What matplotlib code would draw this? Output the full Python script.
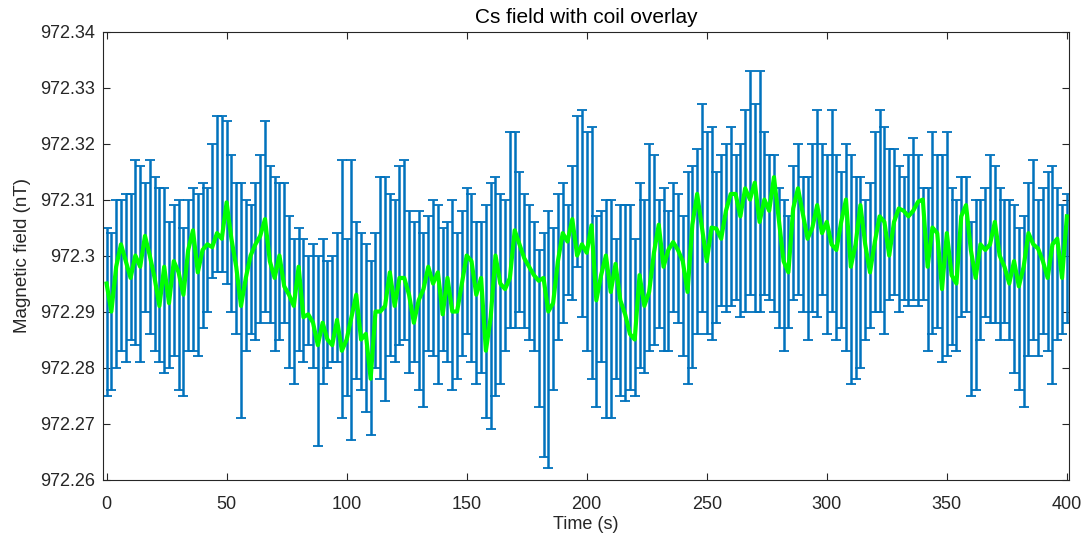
import numpy as np
import matplotlib.pyplot as plt
from matplotlib.ticker import FormatStrFormatter

# field values are stored in pT above 972 nT, every 2 s
BASE_NT = 972.0
time_s = np.arange(0, 401, 2)

# green coil overlay
field_pT = [
    295, 290, 298, 302, 299, 296, 300, 298, 303.5, 300, 296, 291, 298, 291.5, 299, 297, 293, 301, 304.5, 297, 301, 302, 301.5, 304, 303,
    309.5, 303, 298, 291, 296, 300, 302, 303.5, 306.5, 299, 296, 300, 294.5, 293, 291, 298, 289, 289.5, 288, 284, 288, 285, 284, 288.5, 283,
    285, 289, 293, 285, 286, 278, 290, 290, 291, 297, 291, 296, 296, 293, 288, 292, 294, 298, 295, 297, 289.5, 296, 290, 290, 295,
    300, 299, 293, 296, 283, 289, 300, 295, 294, 296, 304.5, 302, 299.5, 298, 296.5, 295.5, 296, 290, 291.5, 299, 304, 302.5, 306.5, 300, 302,
    300.5, 305.4, 292, 296.5, 300, 293.5, 298.5, 292, 289.5, 286, 285, 296.5, 291, 293.5, 300.5, 305.5, 298, 301, 302.4, 301, 299, 293.5, 305.5, 311, 305,
    299, 305, 304.8, 303, 308, 311, 311, 307, 312, 310, 313, 306, 310, 308, 314, 306.5, 299, 297, 308.4, 312, 307.5, 303, 305, 309, 304,
    306, 302, 301, 306, 310, 298, 302, 309, 302, 297, 302.4, 307, 306, 300, 306, 308.4, 308, 307, 308, 309.6, 310, 298, 305, 304, 294,
    304, 296.5, 295, 307, 309, 301, 296, 302, 301, 302, 306, 300, 298, 295, 299, 294.5, 298, 304, 302, 301.25, 299, 296, 302, 303, 296, 307,
]

# upper and lower ends of the Cs error bars
bar_top_pT = [
    305, 304, 310, 310, 311, 311, 317, 316, 313, 317, 314, 312, 312, 306, 309, 310, 305, 310, 312, 311, 313, 312, 320, 325, 325,
    324, 318, 313, 313, 310, 309, 313, 318, 324, 316, 314, 313, 313, 307, 303, 305, 303, 300, 302, 300, 303, 299, 300, 304, 317,
    303, 317, 306, 304, 302, 299, 304, 314, 314, 311, 310, 316, 317, 308, 306, 308, 304, 307, 310, 309, 305, 306, 310, 304, 308,
    312, 311, 306, 306, 309, 313, 314, 311, 310, 322, 322, 315, 311, 309, 306, 301, 304, 308, 305, 311, 313, 309, 316, 325, 326,
    322, 323, 307, 308, 310, 310, 303, 309, 309, 309, 303, 313, 310, 320, 318, 310, 312, 308, 313, 311, 307, 315, 316, 319, 327,
    322, 323, 315, 318, 320, 323, 318, 320, 326, 333, 327, 333, 322, 318, 318, 312, 310, 307, 316, 320, 314, 314, 320, 326, 320,
    318, 326, 318, 315, 320, 318, 314, 314, 310, 313, 322, 326, 323, 319, 319, 316, 314, 318, 321, 318, 312, 312, 322, 318, 318,
    322, 312, 310, 314, 314, 306, 310, 310, 312, 318, 316, 312, 310, 310, 309, 305, 307, 313, 317, 310, 312, 315, 316, 312, 309, 311,
]
bar_bot_pT = [
    275, 276, 280, 283, 281, 285, 284, 281, 290, 286, 283, 281, 279, 280, 282, 276, 275, 283, 283, 282, 287, 290, 296, 297, 297,
    295, 290, 286, 271, 283, 286, 285, 288, 290, 288, 283, 285, 288, 280, 277, 283, 281, 284, 280, 266, 277, 280, 281, 281, 271,
    275, 267, 278, 276, 272, 268, 280, 278, 274, 282, 281, 284, 285, 279, 281, 276, 273, 283, 282, 277, 283, 281, 276, 278, 282,
    286, 281, 277, 279, 271, 269, 275, 277, 283, 287, 287, 290, 287, 285, 283, 273, 264, 262, 276, 285, 288, 293, 292, 298, 289,
    283, 278, 273, 281, 271, 271, 278, 275, 274, 276, 275, 280, 279, 283, 284, 287, 283, 283, 290, 288, 282, 277, 280, 286, 290,
    286, 285, 288, 291, 290, 291, 292, 289, 290, 293, 290, 290, 293, 292, 290, 287, 283, 287, 292, 293, 290, 285, 290, 289, 293,
    286, 290, 285, 287, 283, 277, 278, 280, 285, 287, 290, 290, 286, 292, 293, 290, 292, 291, 292, 291, 292, 283, 286, 287, 281,
    282, 284, 283, 289, 290, 275, 276, 285, 289, 288, 288, 285, 288, 285, 279, 276, 273, 282, 285, 282, 286, 283, 277, 285, 286, 288,
]

field = BASE_NT + np.array(field_pT) / 1000
top = BASE_NT + np.array(bar_top_pT) / 1000
bot = BASE_NT + np.array(bar_bot_pT) / 1000

plt.rcParams['font.family'] = ['Liberation Sans', 'DejaVu Sans']
dark = '#262626'

fig = plt.figure(figsize=(10.85, 5.35), dpi=100)
ax = fig.add_axes([0.0949, 0.1037, 0.8906, 0.8373])

# blue error bars with their connecting line, green overlay on top
ax.errorbar(time_s, field, yerr=[field - bot, top - field], fmt='-',
            color='#0072BD', lw=1.2, ecolor='#0072BD', elinewidth=1.8,
            capsize=3.8, capthick=1.3, zorder=2)
ax.plot(time_s, field, color='#00FF00', lw=3.0, zorder=3)

ax.set_xlim(-1.5, 401)
ax.set_ylim(972.26, 972.34)
ax.set_xticks(np.arange(0, 401, 50))
ax.set_yticks(np.linspace(972.26, 972.34, 9))
ax.yaxis.set_major_formatter(FormatStrFormatter('%g'))

ax.tick_params(direction='in', top=True, right=True, length=5, width=0.8,
               colors=dark, labelsize=13)
ax.tick_params(axis='x', pad=12)
ax.tick_params(axis='y', pad=6)
for sp in ax.spines.values():
    sp.set_color(dark)
    sp.set_linewidth(0.8)

ax.set_xlabel('Time (s)', fontsize=13, color=dark, labelpad=2)
ax.set_ylabel('Magnetic field (nT)', fontsize=13.5, color=dark, labelpad=6)
ax.set_title('Cs field with coil overlay', fontsize=15, color='black')

fig.savefig('out.png', dpi=100)
